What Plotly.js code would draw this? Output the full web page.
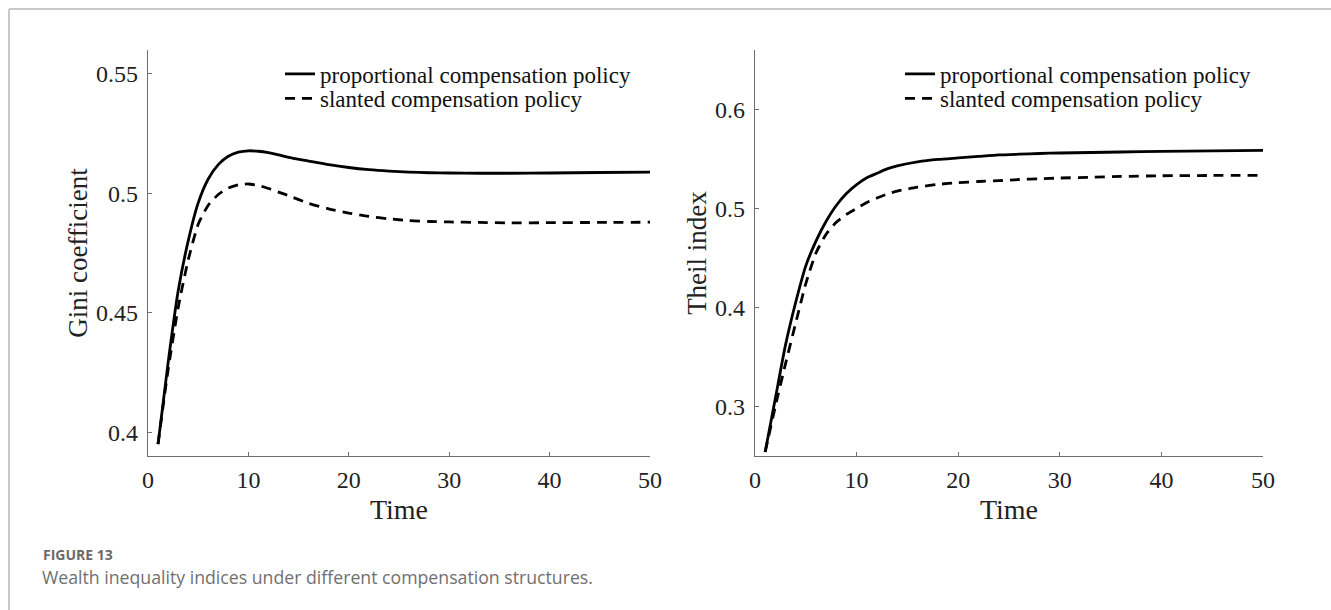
<!DOCTYPE html>
<html>
<head>
<meta charset="utf-8">
<script src="https://cdn.plot.ly/plotly-3.0.1.min.js"></script>
<style>
  html, body { margin: 0; padding: 0; background: #fff; }
  #chart { width: 1331px; height: 610px; }
</style>
</head>
<body>
<div id="chart"></div>
<script>
// ---- data ----
const time = [1, 2, 3, 4, 5, 6, 7, 8, 9, 10, 11, 12, 13, 14, 16, 18, 20, 22, 24, 26, 28, 30, 33, 36, 40, 45, 50];

const giniProportional = [0.395, 0.429, 0.459, 0.480, 0.496, 0.506, 0.512, 0.5155, 0.5172, 0.5178, 0.5176, 0.5170,
  0.5161, 0.5150, 0.5135, 0.5120, 0.5108, 0.5099, 0.5093, 0.5089, 0.5086, 0.5085, 0.5084, 0.5084, 0.5085, 0.5087, 0.5089];
const giniSlanted = [0.395, 0.426, 0.452, 0.472, 0.487, 0.495, 0.4995, 0.5022, 0.5036, 0.5039, 0.5033, 0.5020,
  0.5005, 0.4990, 0.4958, 0.4935, 0.4917, 0.4903, 0.4893, 0.4886, 0.4882, 0.4880, 0.4878, 0.4876, 0.4877, 0.4878, 0.4879];

const theilProportional = [0.254, 0.308, 0.362, 0.405, 0.442, 0.467, 0.487, 0.503, 0.515, 0.524, 0.531, 0.5355,
  0.540, 0.543, 0.547, 0.5495, 0.551, 0.5525, 0.554, 0.5548, 0.5555, 0.556, 0.5565, 0.557, 0.5577, 0.5582, 0.5586];
const theilSlanted = [0.254, 0.300, 0.343, 0.384, 0.424, 0.455, 0.474, 0.486, 0.494, 0.500, 0.506, 0.5105,
  0.5145, 0.5175, 0.5215, 0.5243, 0.526, 0.5272, 0.528, 0.5292, 0.530, 0.5307, 0.5315, 0.5323, 0.533, 0.5333, 0.5335];

const seriesNames = ['proportional compensation policy', 'slanted compensation policy'];
const xTicks = [0, 10, 20, 30, 40, 50];
const giniTicks = [0.4, 0.45, 0.5, 0.55];
const theilTicks = [0.3, 0.4, 0.5, 0.6];
const xTitle = 'Time';
const giniTitle = 'Gini coefficient';
const theilTitle = 'Theil index';
const figLabel = 'FIGURE 13';
const figCaption = 'Wealth inequality indices under different compensation structures.';

// ---- styling ----
const W = 1331, H = 610;
const serif = "'Liberation Serif', 'Times New Roman', Times, serif";
const solid = { color: '#000', width: 2.8, dash: 'solid' };
const dashed = { color: '#000', width: 2.8, dash: '10px,7px' };

const traces = [
  { x: time, y: giniProportional, name: seriesNames[0], xaxis: 'x', yaxis: 'y', mode: 'lines',
    line: Object.assign({ shape: 'spline', smoothing: 0.6 }, solid), legend: 'legend' },
  { x: time, y: giniSlanted, name: seriesNames[1], xaxis: 'x', yaxis: 'y', mode: 'lines',
    line: Object.assign({ shape: 'spline', smoothing: 0.6 }, dashed), legend: 'legend2' },
  { x: time, y: theilProportional, name: seriesNames[0], xaxis: 'x2', yaxis: 'y2', mode: 'lines',
    line: Object.assign({ shape: 'spline', smoothing: 0.6 }, solid), legend: 'legend3' },
  { x: time, y: theilSlanted, name: seriesNames[1], xaxis: 'x2', yaxis: 'y2', mode: 'lines',
    line: Object.assign({ shape: 'spline', smoothing: 0.6 }, dashed), legend: 'legend4' }
];

function xAxis(domain, anchor) {
  return {
    domain: domain, anchor: anchor, range: [0, 50], tickvals: xTicks,
    showline: true, linecolor: '#6e6e6e', linewidth: 1.2, mirror: false,
    ticks: 'inside', ticklen: 4, tickcolor: '#6e6e6e', tickwidth: 1,
    showgrid: false, zeroline: false, ticklabelstandoff: 2,
    tickfont: { family: serif, size: 24, color: '#222' },
    title: { text: xTitle, font: { family: serif, size: 28, color: '#222' }, standoff: 7 },
    fixedrange: true
  };
}
function yAxis(domain, anchor, range, ticks, title) {
  return {
    domain: domain, anchor: anchor, range: range, tickvals: ticks,
    showline: true, linecolor: '#6e6e6e', linewidth: 1.2, mirror: false,
    ticks: 'inside', ticklen: 4, tickcolor: '#6e6e6e', tickwidth: 1,
    showgrid: false, zeroline: false, ticklabelstandoff: 4,
    tickfont: { family: serif, size: 24, color: '#222' },
    title: { text: title, font: { family: serif, size: 27, color: '#222' }, standoff: 0 },
    fixedrange: true
  };
}

const yDom = [(H - 456) / H, (H - 50) / H];

function leg(xPx, yPx) {
  return {
    x: xPx / W, y: (H - yPx) / H, xanchor: 'left', yanchor: 'middle',
    bgcolor: 'rgba(0,0,0,0)', borderwidth: 0, itemwidth: 30,
    font: { family: serif, size: 23, color: '#111' },
    tracegroupgap: 0, itemclick: false, itemdoubleclick: false
  };
}

const layout = {
  width: W, height: H,
  margin: { l: 0, r: 0, t: 0, b: 0 },
  paper_bgcolor: '#fff', plot_bgcolor: '#fff',
  showlegend: true,
  xaxis: xAxis([148 / W, 650 / W], 'y'),
  yaxis: yAxis(yDom, 'x', [0.39, 0.56], giniTicks, giniTitle),
  xaxis2: xAxis([755 / W, 1263 / W], 'y2'),
  yaxis2: yAxis(yDom, 'x2', [0.25, 0.66], theilTicks, theilTitle),
  legend: leg(280, 74),
  legend2: leg(280, 98.5),
  legend3: leg(900, 74),
  legend4: leg(900, 98.5),
  shapes: [
    { type: 'line', xref: 'paper', yref: 'paper', x0: 9 / W, x1: 1, y0: (H - 9) / H, y1: (H - 9) / H,
      line: { color: '#c8c8c8', width: 2 } },
    { type: 'line', xref: 'paper', yref: 'paper', x0: 9 / W, x1: 9 / W, y0: 0, y1: (H - 9) / H,
      line: { color: '#c8c8c8', width: 2 } }
  ],
  annotations: [
    { text: '<b>' + figLabel + '</b>', xref: 'paper', yref: 'paper', x: 41 / W, y: (H - 554) / H,
      xanchor: 'left', yanchor: 'middle', showarrow: false,
      font: { family: "'Open Sans', sans-serif", size: 14, color: '#6a6a6a' } },
    { text: figCaption, xref: 'paper', yref: 'paper', x: 40 / W, y: (H - 577) / H,
      xanchor: 'left', yanchor: 'middle', showarrow: false,
      font: { family: "'Open Sans', sans-serif", size: 17.7, color: '#707070' } }
  ]
};

Plotly.newPlot('chart', traces, layout, { staticPlot: true, displayModeBar: false });
</script>
</body>
</html>
